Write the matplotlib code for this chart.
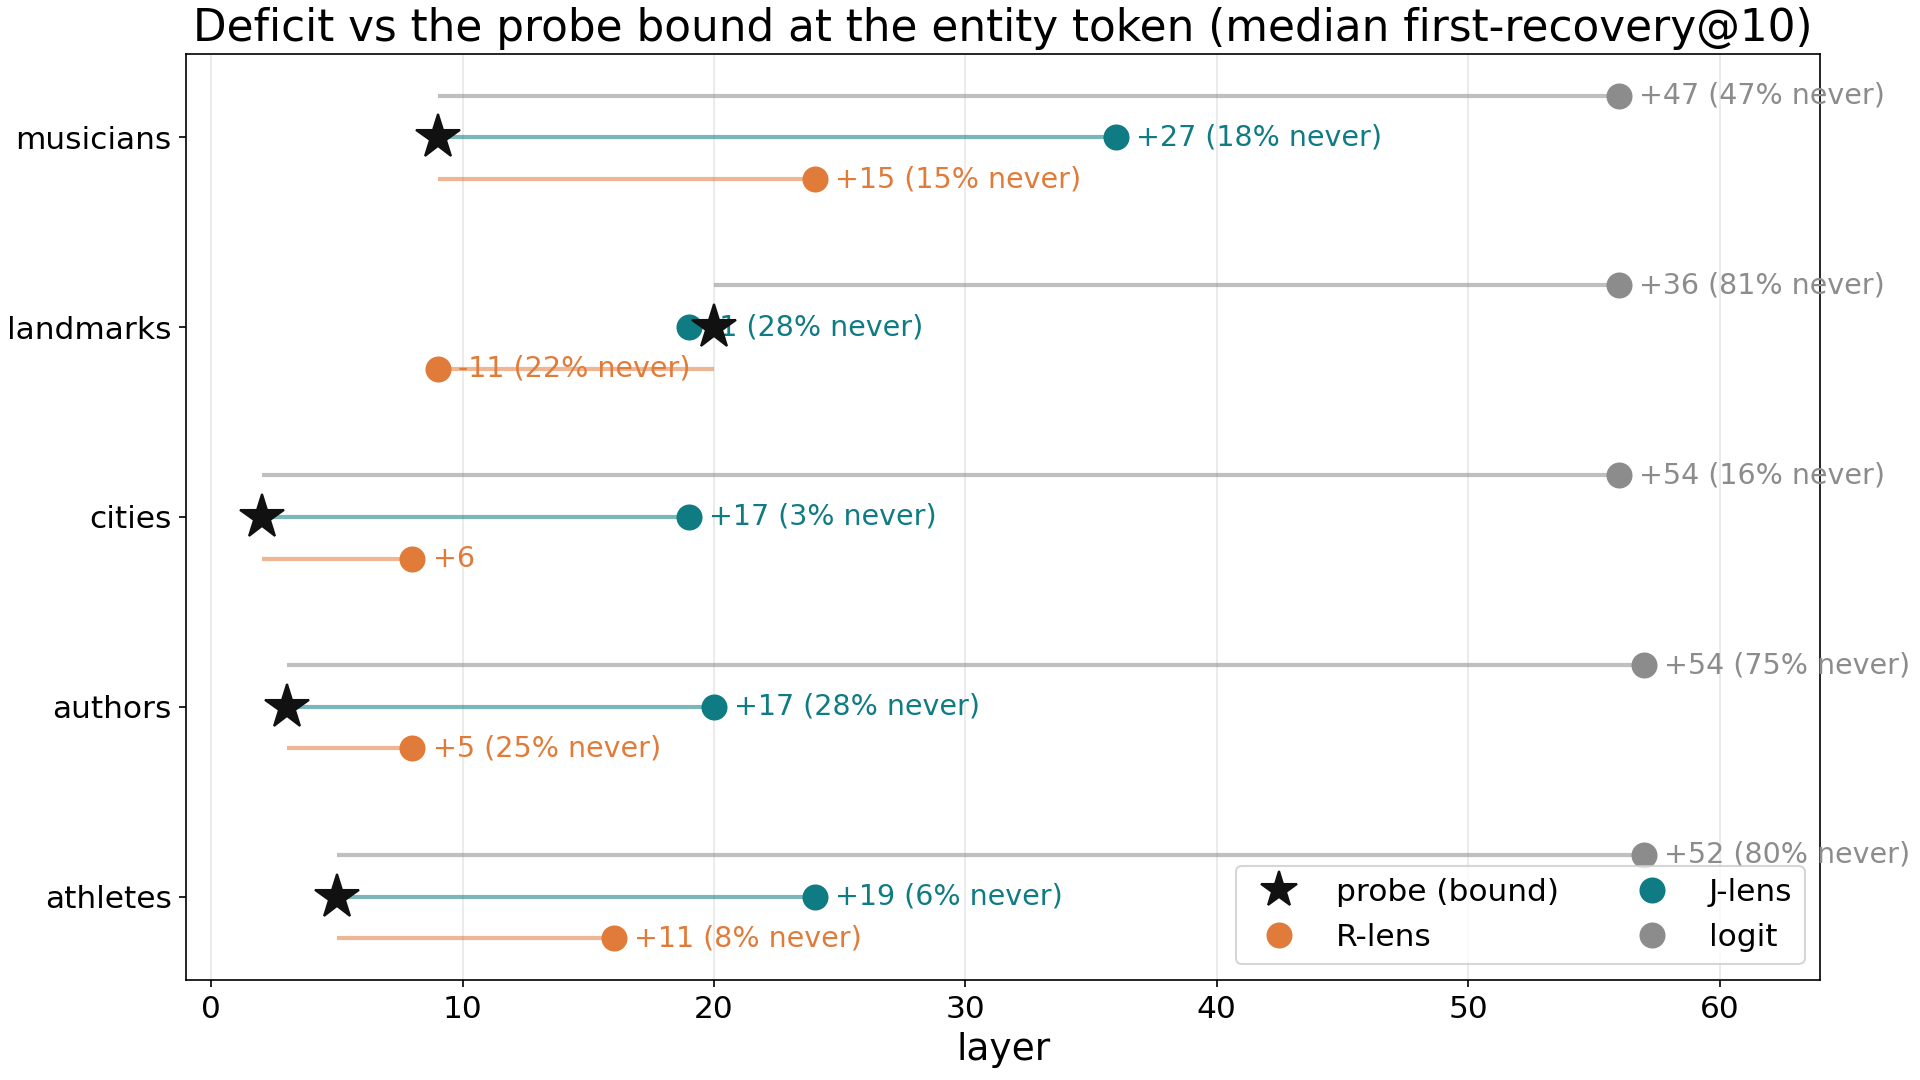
import matplotlib
matplotlib.use("Agg")
import matplotlib.pyplot as plt
from matplotlib.lines import Line2D

# categories listed top to bottom
categories = ["musicians", "landmarks", "cities", "authors", "athletes"]
probe = [9, 20, 2, 3, 5]
jlens = [36, 19, 19, 20, 24]
rlens = [24, 9, 8, 8, 16]
logit = [56, 56, 56, 57, 57]
jlens_never = [18, 28, 3, 28, 6]
rlens_never = [15, 22, 0, 25, 8]
logit_never = [47, 81, 16, 75, 80]

c_j = "#0f7b83"
c_r = "#e07b39"
c_l = "#8c8c8c"

fig, ax = plt.subplots(figsize=(12.8, 7.2), dpi=150)
fig.subplots_adjust(left=0.097, right=0.948, top=0.95, bottom=0.0926)


def label(delta, never):
    s = f"{delta:+d}"
    if never > 0:
        s += f" ({never}% never)"
    return s


n = len(categories)
for i, cat in enumerate(categories):
    y = n - 1 - i
    p = probe[i]
    rows = [
        (logit[i], logit_never[i], c_l, y + 0.22),
        (jlens[i], jlens_never[i], c_j, y),
        (rlens[i], rlens_never[i], c_r, y - 0.22),
    ]
    for val, nev, col, yy in rows:
        ax.plot([p, val], [yy, yy], color=col, lw=2, alpha=0.55, zorder=2,
                solid_capstyle="butt")
        ax.plot(val, yy, "o", color=col, markersize=11.5, zorder=4)
        ax.text(val + 0.8, yy, label(val - p, nev), color=col, fontsize=13.7,
                va="center", ha="left", zorder=3)
    ax.plot(p, y, "*", color="#111111", markersize=22, zorder=5)

ax.set_yticks(range(n))
ax.set_yticklabels(categories[::-1], fontsize=15)
ax.tick_params(axis="x", labelsize=15)
ax.set_xlim(-1, 64)
ax.set_ylim(-0.44, 4.44)
ax.set_xlabel("layer", fontsize=18)
ax.set_title("Deficit vs the probe bound at the entity token (median first-recovery@10)",
             fontsize=21)
ax.grid(axis="x", alpha=0.3)
ax.set_axisbelow(True)

handles = [
    Line2D([], [], marker="*", color="#111111", ls="none", markersize=18),
    Line2D([], [], marker="o", color=c_r, ls="none", markersize=11.5),
    Line2D([], [], marker="o", color=c_j, ls="none", markersize=11.5),
    Line2D([], [], marker="o", color=c_l, ls="none", markersize=11.5),
]
ax.legend(handles, ["probe (bound)", "R-lens", "J-lens", "logit"],
          loc="lower right", ncol=2, fontsize=15)

fig.savefig("out.png", dpi=150)
